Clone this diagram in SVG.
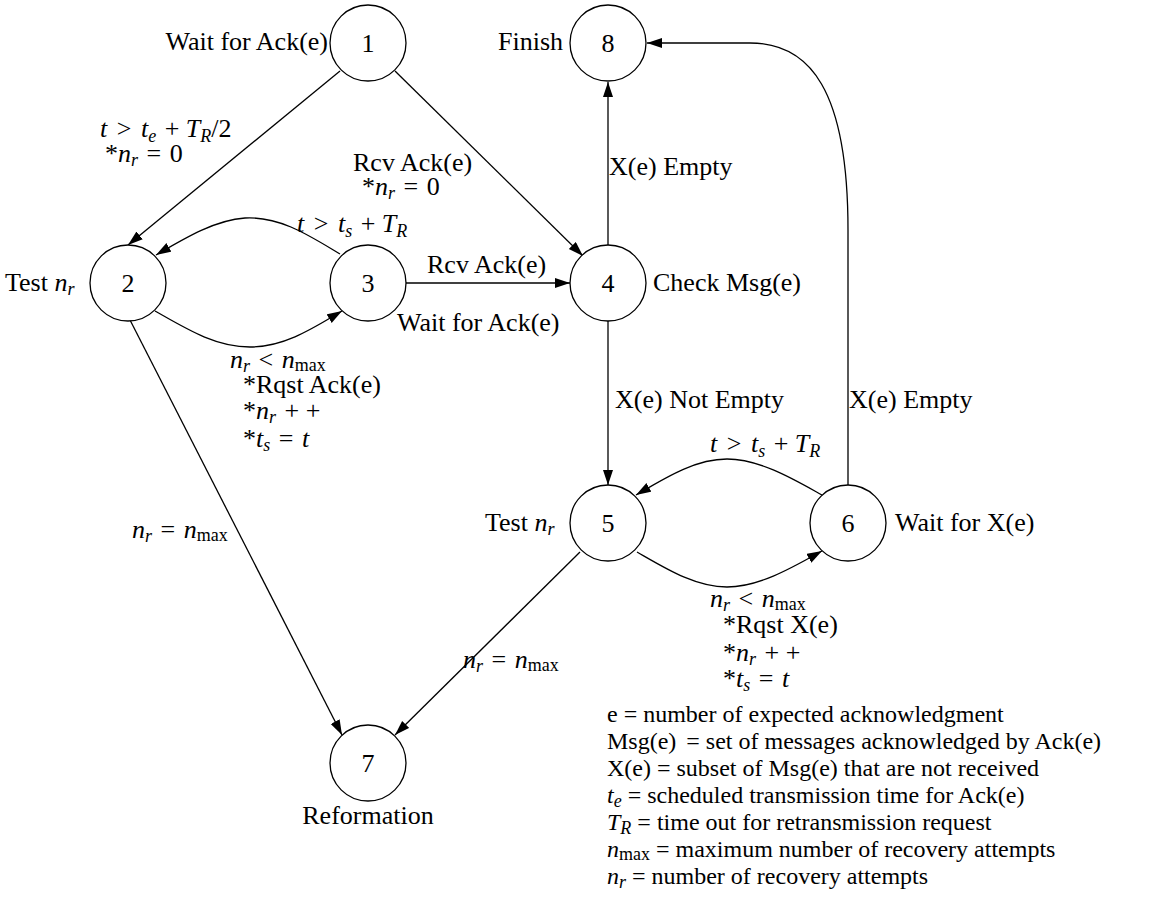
<svg xmlns="http://www.w3.org/2000/svg" width="1162" height="903" viewBox="0 0 1162 903">
<style>
text{font-family:"Liberation Serif","Times New Roman",serif;font-size:26px;fill:#000}
.lg{font-size:24px}
.i{font-style:italic}
.s{font-size:18px}
circle{fill:#fff;stroke:#000;stroke-width:1.3}
.e{fill:none;stroke:#000;stroke-width:1.3;marker-end:url(#a)}
</style>
<defs>
<marker id="a" markerUnits="userSpaceOnUse" markerWidth="16" markerHeight="12" refX="15" refY="5" orient="auto">
<path d="M0,0 L15,5 L0,10 z" fill="#000"/>
</marker>
</defs>
<g id="connectors">
<path class="e" d="M340,71 L128,245"/>
<path class="e" d="M395,71 L583,256"/>
<path class="e" d="M340,254 C310,236 280,216 245,218 C215,220 185,238 156,255"/>
<path class="e" d="M155,311 C185,328 215,347 250,347 C285,347 315,327 342,311"/>
<path class="e" d="M406,283 L570,283"/>
<path class="e" d="M608,245 L608,82"/>
<path class="e" d="M608,321 L608,485"/>
<path class="e" d="M822,495 C795,480 760,459 727,459 C695,459 665,478 636,495"/>
<path class="e" d="M637,552 C665,568 695,587 727,587 C760,587 795,566 822,551"/>
<path class="e" d="M130,320 L342,735"/>
<path class="e" d="M580,552 L395,735"/>
<path class="e" d="M848,485 L848,230 C848,90 810,43 750,43 L647,43"/>
</g>
<g id="edge-labels">
<text x="100" y="137"><tspan class="i">t</tspan><tspan dx="3"> &gt; </tspan><tspan class="i" dx="3">t</tspan><tspan class="i s" dy="5">e</tspan><tspan dy="-5" dx="2"> + </tspan><tspan class="i">T</tspan><tspan class="i s" dy="5">R</tspan><tspan dy="-5">/2</tspan></text>
<text x="105" y="162">*<tspan class="i">n</tspan><tspan class="i s" dy="4">r</tspan><tspan dy="-4" dx="2"> = </tspan><tspan dx="2">0</tspan></text>
<text x="353" y="171">Rcv Ack(e)</text>
<text x="362" y="195">*<tspan class="i">n</tspan><tspan class="i s" dy="4">r</tspan><tspan dy="-4" dx="2"> = </tspan><tspan dx="2">0</tspan></text>
<text x="297" y="232"><tspan class="i">t</tspan><tspan dx="3"> &gt; </tspan><tspan class="i" dx="3">t</tspan><tspan class="i s" dy="5">s</tspan><tspan dy="-5" dx="2"> + </tspan><tspan class="i">T</tspan><tspan class="i s" dy="5">R</tspan></text>
<text x="427" y="273">Rcv Ack(e)</text>
<text x="609" y="175">X(e) Empty</text>
<text x="230" y="368"><tspan class="i">n</tspan><tspan class="i s" dy="4">r</tspan><tspan dy="-4" dx="2"> &lt; </tspan><tspan class="i" dx="2">n</tspan><tspan class="s" dy="3">max</tspan></text>
<text x="243" y="393">*Rqst Ack(e)</text>
<text x="243" y="419">*<tspan class="i">n</tspan><tspan class="i s" dy="4">r</tspan><tspan dy="-4" dx="2"> + +</tspan></text>
<text x="243" y="447">*<tspan class="i">t</tspan><tspan class="i s" dy="4">s</tspan><tspan dy="-4" dx="2"> = </tspan><tspan class="i" dx="2">t</tspan></text>
<text x="132" y="538"><tspan class="i">n</tspan><tspan class="i s" dy="4">r</tspan><tspan dy="-4" dx="2"> = </tspan><tspan class="i" dx="2">n</tspan><tspan class="s" dy="3">max</tspan></text>
<text x="615" y="408">X(e) Not Empty</text>
<text x="849" y="408">X(e) Empty</text>
<text x="710" y="452"><tspan class="i">t</tspan><tspan dx="3"> &gt; </tspan><tspan class="i" dx="3">t</tspan><tspan class="i s" dy="5">s</tspan><tspan dy="-5" dx="2"> + </tspan><tspan class="i">T</tspan><tspan class="i s" dy="5">R</tspan></text>
<text x="710" y="607"><tspan class="i">n</tspan><tspan class="i s" dy="4">r</tspan><tspan dy="-4" dx="2"> &lt; </tspan><tspan class="i" dx="2">n</tspan><tspan class="s" dy="3">max</tspan></text>
<text x="723" y="633">*Rqst X(e)</text>
<text x="723" y="661">*<tspan class="i">n</tspan><tspan class="i s" dy="4">r</tspan><tspan dy="-4" dx="2"> + +</tspan></text>
<text x="723" y="687">*<tspan class="i">t</tspan><tspan class="i s" dy="4">s</tspan><tspan dy="-4" dx="2"> = </tspan><tspan class="i" dx="2">t</tspan></text>
<text x="463" y="668"><tspan class="i">n</tspan><tspan class="i s" dy="4">r</tspan><tspan dy="-4" dx="2"> = </tspan><tspan class="i" dx="2">n</tspan><tspan class="s" dy="3">max</tspan></text>
</g>
<g id="node1"><circle cx="368" cy="43" r="38"/><text x="368" y="52" text-anchor="middle">1</text><text x="328" y="50" text-anchor="end">Wait for Ack(e)</text></g>
<g id="node8"><circle cx="608" cy="43" r="38"/><text x="608" y="52" text-anchor="middle">8</text><text x="563" y="50" text-anchor="end">Finish</text></g>
<g id="node2"><circle cx="128" cy="283" r="38"/><text x="128" y="292" text-anchor="middle">2</text><text x="5" y="291">Test <tspan class="i">n</tspan><tspan class="i s" dy="4">r</tspan></text></g>
<g id="node3"><circle cx="368" cy="283" r="38"/><text x="368" y="292" text-anchor="middle">3</text><text x="397" y="331">Wait for Ack(e)</text></g>
<g id="node4"><circle cx="608" cy="283" r="38"/><text x="608" y="292" text-anchor="middle">4</text><text x="653" y="291">Check Msg(e)</text></g>
<g id="node5"><circle cx="608" cy="523" r="38"/><text x="608" y="532" text-anchor="middle">5</text><text x="485" y="531">Test <tspan class="i">n</tspan><tspan class="i s" dy="4">r</tspan></text></g>
<g id="node6"><circle cx="848" cy="523" r="38"/><text x="848" y="532" text-anchor="middle">6</text><text x="895" y="531">Wait for X(e)</text></g>
<g id="node7"><circle cx="368" cy="763" r="38"/><text x="368" y="772" text-anchor="middle">7</text><text x="368" y="824" text-anchor="middle">Reformation</text></g>
<g id="legend">
<text class="lg" x="607" y="722">e = number of expected acknowledgment</text>
<text class="lg" x="607" y="749">Msg(e) <tspan dx="4">= set of messages acknowledged by Ack(e)</tspan></text>
<text class="lg" x="607" y="776">X(e) = subset of Msg(e) that are not received</text>
<text class="lg" x="607" y="803"><tspan class="i">t</tspan><tspan class="i s" dy="4">e</tspan><tspan dy="-4"> = scheduled transmission time for Ack(e)</tspan></text>
<text class="lg" x="607" y="830"><tspan class="i">T</tspan><tspan class="i s" dy="4">R</tspan><tspan dy="-4"> = time out for retransmission request</tspan></text>
<text class="lg" x="607" y="857"><tspan class="i">n</tspan><tspan class="s" dy="3">max</tspan><tspan dy="-3"> = maximum number of recovery attempts</tspan></text>
<text class="lg" x="607" y="884"><tspan class="i">n</tspan><tspan class="i s" dy="4">r</tspan><tspan dy="-4"> = number of recovery attempts</tspan></text>
</g>
</svg>
